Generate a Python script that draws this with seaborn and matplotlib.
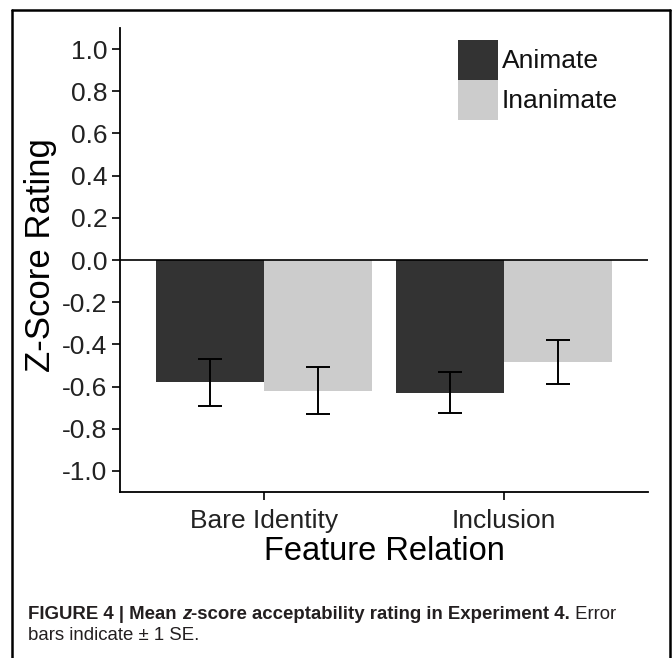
import matplotlib
matplotlib.use("Agg")
import matplotlib.pyplot as plt
import seaborn as sns
import pandas as pd
from matplotlib.lines import Line2D

# ---- data ----
relations = ["Bare Identity", "Inclusion"]
animacy = ["Animate", "Inanimate"]
animate_means = [-0.58, -0.63]
inanimate_means = [-0.62, -0.485]
animate_se = [0.112, 0.097]
inanimate_se = [0.112, 0.104]
y_ticks = [1.0, 0.8, 0.6, 0.4, 0.2, 0.0, -0.2, -0.4, -0.6, -0.8, -1.0]
y_tick_labels = ["1.0", "0.8", "0.6", "0.4", "0.2", "0.0", "-0.2", "-0.4", "-0.6", "-0.8", "-1.0"]
x_title = "Feature Relation"
y_title = "Z-Score Rating"

W, H = 672, 658

sns.set_style("white")
plt.rcParams["font.family"] = ["Liberation Sans", "DejaVu Sans"]

df = pd.DataFrame({
    "Feature Relation": relations * 2,
    "Animacy": [animacy[0]] * len(relations) + [animacy[1]] * len(relations),
    "Z": animate_means + inanimate_means,
    "SE": animate_se + inanimate_se,
})

fig = plt.figure(figsize=(W / 100, H / 100), dpi=100)
ax = fig.add_axes([120 / W, 1 - 492 / H, 528 / W, 464 / H])

sns.barplot(data=df, x="Feature Relation", y="Z", hue="Animacy",
            order=relations, hue_order=animacy,
            palette={"Animate": "#333333", "Inanimate": "#cccccc"},
            width=0.9, errorbar=None, saturation=1, linewidth=0, ax=ax)

# error bars centred on each bar
for cont, hue in zip(ax.containers, animacy):
    sub = df[df["Animacy"] == hue].set_index("Feature Relation").loc[relations]
    xs = [b.get_x() + b.get_width() / 2 for b in cont]
    ax.errorbar(xs, sub["Z"].values, yerr=sub["SE"].values, fmt="none",
                ecolor="black", elinewidth=1.4, capsize=8.5, capthick=1.4, zorder=5)

ax.axhline(0, color="black", lw=1.2, zorder=4)

ax.set_xlim(-0.6, 1.6)
ax.set_ylim(-1.1, 1.1)
ax.set_yticks(y_ticks)
ax.set_yticklabels(y_tick_labels)
for s in ["top", "right"]:
    ax.spines[s].set_visible(False)
for s in ["left", "bottom"]:
    ax.spines[s].set_color("black")
    ax.spines[s].set_linewidth(1.3)
ax.tick_params(axis="both", direction="out", length=6, width=1.2, color="black",
               labelsize=19, labelcolor="#222222", pad=3, left=True, bottom=True)
ax.tick_params(axis="x", pad=6)

ax.set_xlabel(x_title, fontsize=23.5, color="black", va="center")
ax.xaxis.set_label_coords(0.5, -(551 - 492) / 464)
ax.set_ylabel(y_title, fontsize=25, color="black", va="center")
ax.yaxis.set_label_coords(-(120 - 41) / 528, 0.5 + (260 - 255) / 464)

handles, labels = ax.get_legend_handles_labels()
ax.legend(handles, labels, loc="upper left",
          bbox_to_anchor=(458 / W, 1 - 40 / H), bbox_transform=fig.transFigure,
          frameon=False, fontsize=19, handlelength=1.52, handleheight=1.955,
          handletextpad=0.15, labelspacing=0.0, borderpad=0, borderaxespad=0,
          labelcolor="#111111")

# outer frame of the figure panel
lw = 1.8
fig.add_artist(Line2D([12 / W, 12 / W], [0, 1 - 10 / H], transform=fig.transFigure, color="black", lw=lw))
fig.add_artist(Line2D([12 / W, 670 / W], [1 - 10 / H, 1 - 10 / H], transform=fig.transFigure, color="black", lw=lw))
fig.add_artist(Line2D([670 / W, 670 / W], [0, 1 - 10 / H], transform=fig.transFigure, color="black", lw=lw))

# caption
renderer = fig.canvas.get_renderer()
cap_color = "#231f20"
cap_size = 13.4


def draw_runs(x_px, y_px, runs):
    x = x_px
    for s, weight, style in runs:
        t = fig.text(x / W, 1 - y_px / H, s, fontsize=cap_size, fontweight=weight,
                     fontstyle=style, color=cap_color, ha="left", va="baseline")
        x += t.get_window_extent(renderer).width


draw_runs(28, 619, [("FIGURE 4 | Mean ", "bold", "normal"),
                    ("z", "bold", "italic"),
                    ("-score acceptability rating in Experiment 4.", "bold", "normal"),
                    (" Error", "normal", "normal")])
draw_runs(28, 640, [("bars indicate \u00b1 1 SE.", "normal", "normal")])

fig.savefig("out.png", dpi=100)
